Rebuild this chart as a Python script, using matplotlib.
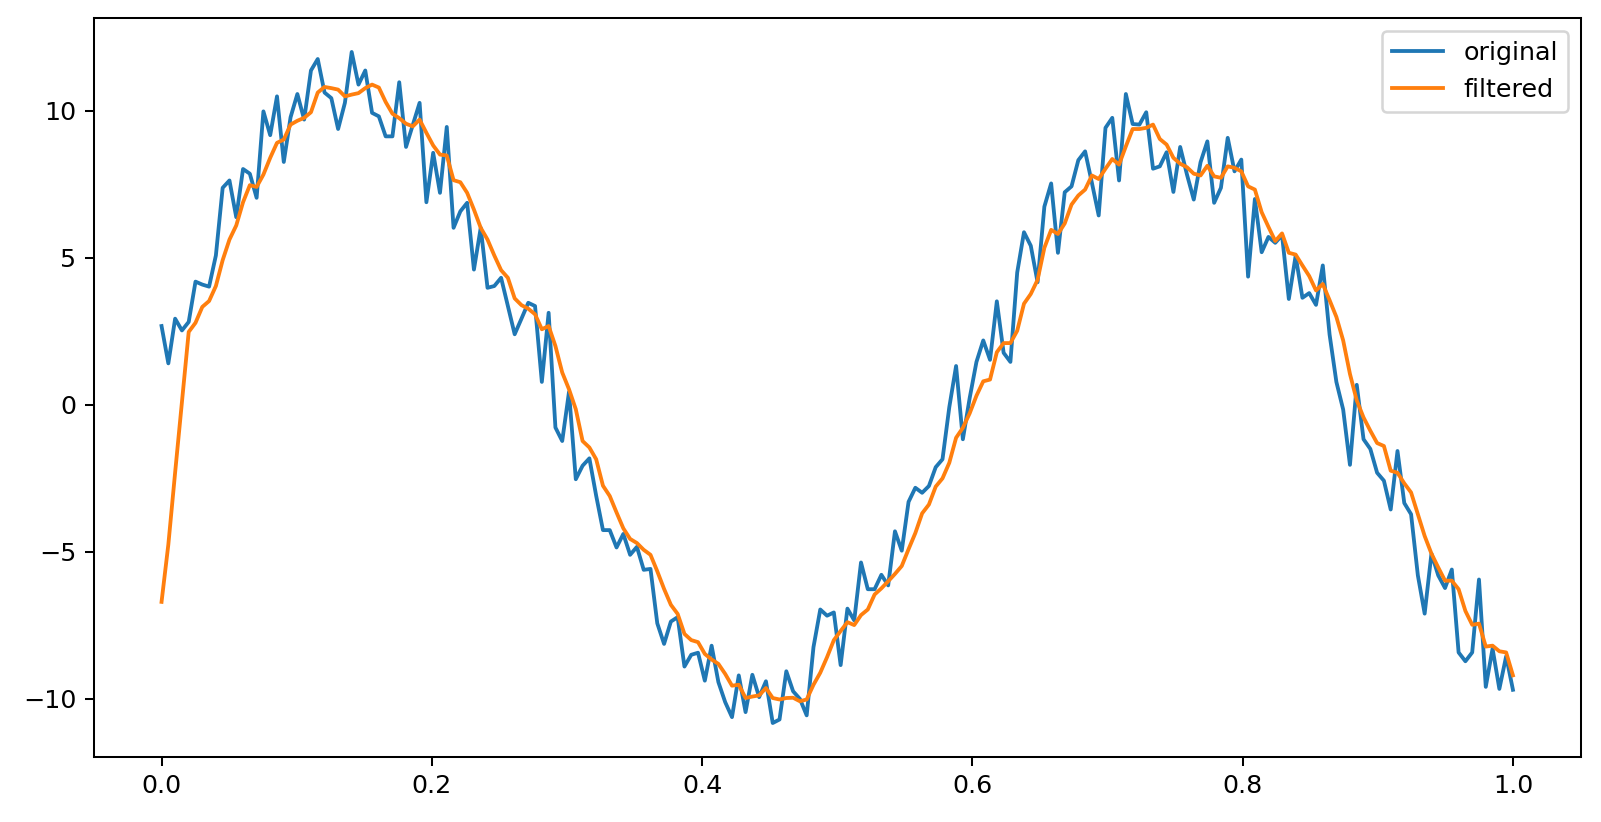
import numpy as np
import matplotlib
matplotlib.use("Agg")
import matplotlib.pyplot as plt

# values, 200 samples over [0, 1]
original = [
    2.68, 1.41, 2.93, 2.53, 2.82, 4.19, 4.09, 4.02, 5.08, 7.38,
    7.63, 6.38, 8.02, 7.86, 7.04, 9.98, 9.17, 10.49, 8.26, 9.78,
    10.57, 9.70, 11.37, 11.76, 10.62, 10.43, 9.38, 10.27, 12.00, 10.89,
    11.37, 9.93, 9.81, 9.13, 9.13, 10.97, 8.77, 9.52, 10.27, 6.89,
    8.57, 7.21, 9.45, 6.02, 6.58, 6.87, 4.60, 6.02, 3.98, 4.04,
    4.32, 3.36, 2.40, 2.93, 3.47, 3.36, 0.78, 3.13, -0.77, -1.23,
    0.44, -2.53, -2.07, -1.82, -3.09, -4.26, -4.26, -4.85, -4.39, -5.10,
    -4.83, -5.61, -5.58, -7.43, -8.13, -7.37, -7.22, -8.90, -8.50, -8.43,
    -9.38, -8.19, -9.43, -10.11, -10.62, -9.20, -10.45, -9.18, -9.94, -9.40,
    -10.82, -10.70, -9.06, -9.74, -10.00, -10.56, -8.24, -6.96, -7.17, -7.06,
    -8.85, -6.93, -7.33, -5.36, -6.27, -6.27, -5.78, -6.14, -4.30, -4.96,
    -3.30, -2.82, -2.99, -2.76, -2.12, -1.85, -0.08, 1.32, -1.17, 0.23,
    1.46, 2.19, 1.53, 3.52, 1.77, 1.46, 4.50, 5.87, 5.41, 4.17,
    6.74, 7.53, 5.17, 7.23, 7.43, 8.32, 8.62, 7.55, 6.44, 9.42,
    9.76, 7.63, 10.57, 9.55, 9.53, 9.95, 8.03, 8.11, 8.59, 7.24,
    8.77, 7.83, 6.98, 8.25, 8.96, 6.87, 7.38, 9.08, 7.94, 8.34,
    4.36, 7.00, 5.19, 5.71, 5.51, 5.77, 3.60, 5.07, 3.64, 3.80,
    3.40, 4.74, 2.39, 0.78, -0.16, -2.04, 0.68, -1.17, -1.50, -2.31,
    -2.58, -3.56, -1.57, -3.34, -3.72, -5.80, -7.10, -5.06, -5.80, -6.23,
    -5.60, -8.42, -8.72, -8.42, -5.94, -9.59, -8.29, -9.66, -8.55, -9.69,
]

filtered = [
    -6.70, -4.75, -2.30, 0.10, 2.48, 2.79, 3.33, 3.53, 4.04, 4.92,
    5.62, 6.10, 6.89, 7.47, 7.41, 7.83, 8.40, 8.91, 9.02, 9.53,
    9.66, 9.76, 9.95, 10.62, 10.81, 10.77, 10.72, 10.49, 10.55, 10.60,
    10.77, 10.89, 10.79, 10.30, 9.90, 9.75, 9.56, 9.47, 9.70, 9.25,
    8.82, 8.51, 8.48, 7.64, 7.57, 7.21, 6.64, 6.02, 5.62, 5.08,
    4.58, 4.32, 3.62, 3.39, 3.27, 3.08, 2.57, 2.68, 2.00, 1.10,
    0.53, -0.15, -1.23, -1.45, -1.85, -2.75, -3.10, -3.66, -4.20, -4.56,
    -4.70, -4.93, -5.10, -5.66, -6.26, -6.80, -7.11, -7.79, -8.00, -8.07,
    -8.47, -8.66, -8.81, -9.15, -9.55, -9.52, -9.97, -9.92, -9.88, -9.63,
    -9.97, -10.02, -9.97, -9.96, -10.08, -10.02, -9.52, -9.11, -8.58, -8.00,
    -7.69, -7.39, -7.49, -7.15, -6.96, -6.45, -6.24, -6.00, -5.75, -5.48,
    -4.91, -4.36, -3.69, -3.39, -2.78, -2.50, -1.97, -1.12, -0.78, -0.29,
    0.31, 0.80, 0.86, 1.79, 2.10, 2.10, 2.52, 3.44, 3.77, 4.25,
    5.34, 5.95, 5.81, 6.17, 6.81, 7.12, 7.32, 7.80, 7.68, 8.03,
    8.36, 8.17, 8.79, 9.38, 9.38, 9.42, 9.53, 9.04, 8.85, 8.40,
    8.20, 8.08, 7.86, 7.80, 8.13, 7.77, 7.72, 8.11, 8.06, 7.94,
    7.43, 7.32, 6.55, 6.05, 5.57, 5.83, 5.17, 5.11, 4.74, 4.38,
    3.89, 4.11, 3.56, 2.99, 2.19, 1.05, 0.15, -0.43, -0.88, -1.30,
    -1.40, -2.24, -2.31, -2.67, -2.98, -3.72, -4.46, -5.06, -5.53, -5.98,
    -5.98, -6.27, -7.01, -7.48, -7.44, -8.22, -8.19, -8.38, -8.42, -9.20,
]

t = np.linspace(0, 1, len(original))

fig = plt.figure(figsize=(1601 / 183, 822 / 183), dpi=183)
plt.subplots_adjust(left=0.0587, right=0.9872, bottom=0.0796, top=0.9776)
plt.plot(t, original, label="original")
plt.plot(t, filtered, label="filtered")
plt.legend()
plt.savefig("out.png", dpi=183)
